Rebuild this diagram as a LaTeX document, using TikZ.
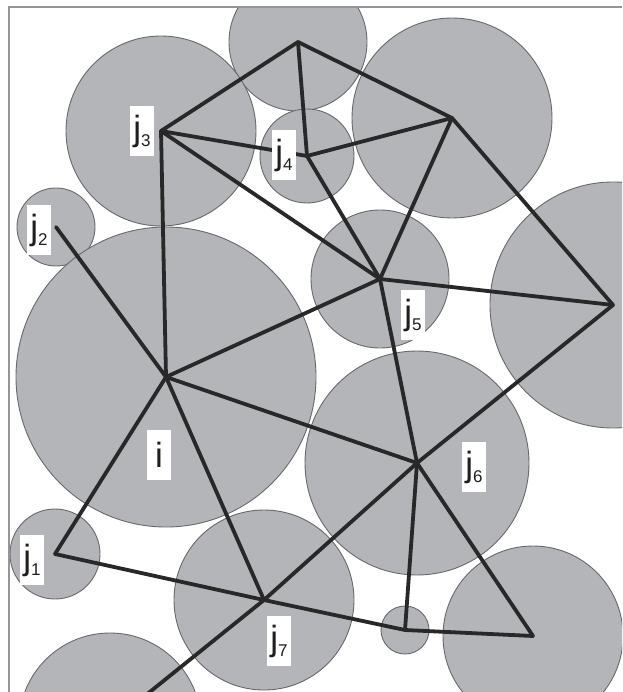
\documentclass[tikz,border=0pt]{standalone}
\usepackage{fontspec}
\setmainfont{Liberation Sans}
\definecolor{discfill}{RGB}{179,181,185}
\definecolor{discline}{RGB}{105,105,108}
\definecolor{edgecol}{RGB}{40,40,40}
\definecolor{framecol}{RGB}{150,150,150}
\newcommand\jlab[1]{j\raisebox{-6pt}{\fontsize{17}{17}\selectfont #1}}
\tikzset{
  disc/.style={fill=discfill, draw=discline, line width=0.9pt},
  edge/.style={draw=edgecol, line width=3.8pt, line cap=round, line join=round},
  lbl/.style={fill=white, inner sep=0pt, minimum width=24pt, minimum height=50pt,
              font=\fontsize{35}{35}\selectfont, text=black!88},
  frameline/.style={draw=framecol, line width=1.4pt}
}
\begin{document}
\begin{tikzpicture}[x=1pt, y=-1pt]
\useasboundingbox (0,0) rectangle (622,692);
\fill[white] (0,0) rectangle (622,692);
% vertices (circle centres)
\coordinate (vA)  at (298,42);
\coordinate (vj3) at (161,131);
\coordinate (vj4) at (307,156);
\coordinate (vB)  at (452,118);
\coordinate (vj2) at (56,227);
\coordinate (vj5) at (380,279);
\coordinate (vR)  at (613,305);
\coordinate (vi)  at (166,377);
\coordinate (vj6) at (417,463);
\coordinate (vj1) at (55,554);
\coordinate (vj7) at (264,600);
\coordinate (vS)  at (405,630);
\coordinate (vBR) at (533,636);
\coordinate (vBL) at (110,724);
\begin{scope}
\clip (9,7) rectangle (622,692);
% discs
\path[disc] (vA)  circle[radius=69pt];
\path[disc] (vj3) circle[radius=95pt];
\path[disc] (vj4) circle[radius=47pt];
\path[disc] (vB)  circle[radius=100pt];
\path[disc] (vj2) circle[radius=39pt];
\path[disc] (vj5) circle[radius=69pt];
\path[disc] (vR)  circle[radius=123pt];
\path[disc] (vi)  circle[radius=150pt];
\path[disc] (vj6) circle[radius=112pt];
\path[disc] (vj1) circle[radius=45pt];
\path[disc] (vj7) circle[radius=90pt];
\path[disc] (vS)  circle[radius=24pt];
\path[disc] (vBR) circle[radius=90pt];
\path[disc] (vBL) circle[radius=91pt];
% connectors
\draw[edge] (vA) -- (vj3);
\draw[edge] (vA) -- (vj4);
\draw[edge] (vA) -- (vB);
\draw[edge] (vj3) -- (vj4);
\draw[edge] (vj3) -- (vj5);
\draw[edge] (vj3) -- (vi);
\draw[edge] (vj4) -- (vB);
\draw[edge] (vj4) -- (vj5);
\draw[edge] (vB) -- (vj5);
\draw[edge] (vB) -- (vR);
\draw[edge] (vj5) -- (vR);
\draw[edge] (vj5) -- (vi);
\draw[edge] (vj5) -- (vj6);
\draw[edge] (vj2) -- (vi);
\draw[edge] (vi) -- (vj6);
\draw[edge] (vi) -- (vj1);
\draw[edge] (vi) -- (vj7);
\draw[edge] (vR) -- (vj6);
\draw[edge] (vj6) -- (vj7);
\draw[edge] (vj6) -- (vS);
\draw[edge] (vj6) -- (vBR);
\draw[edge] (vj1) -- (vj7);
\draw[edge] (vj7) -- (vS);
\draw[edge] (vS) -- (vBR);
\draw[edge] (vj7) -- (vBL);
\end{scope}
% frame
\draw[frameline] (9,692) -- (9,7) -- (622,7);
% labels
\node[lbl] (lj3) at (142,131) {\jlab{3}};
\node[lbl] (lj4) at (284,155) {\jlab{4}};
\node[lbl] (lj2) at (39,230) {\jlab{2}};
\node[lbl] (lj5) at (413,315) {\jlab{5}};
\node[lbl] (li)  at (159,455) {i};
\node[lbl] (lj1) at (32,560) {\jlab{1}};
\node[lbl] (lj7) at (279,641) {\jlab{7}};
\node[lbl] (lj6) at (474,467) {\jlab{6}};
\end{tikzpicture}
\end{document}
